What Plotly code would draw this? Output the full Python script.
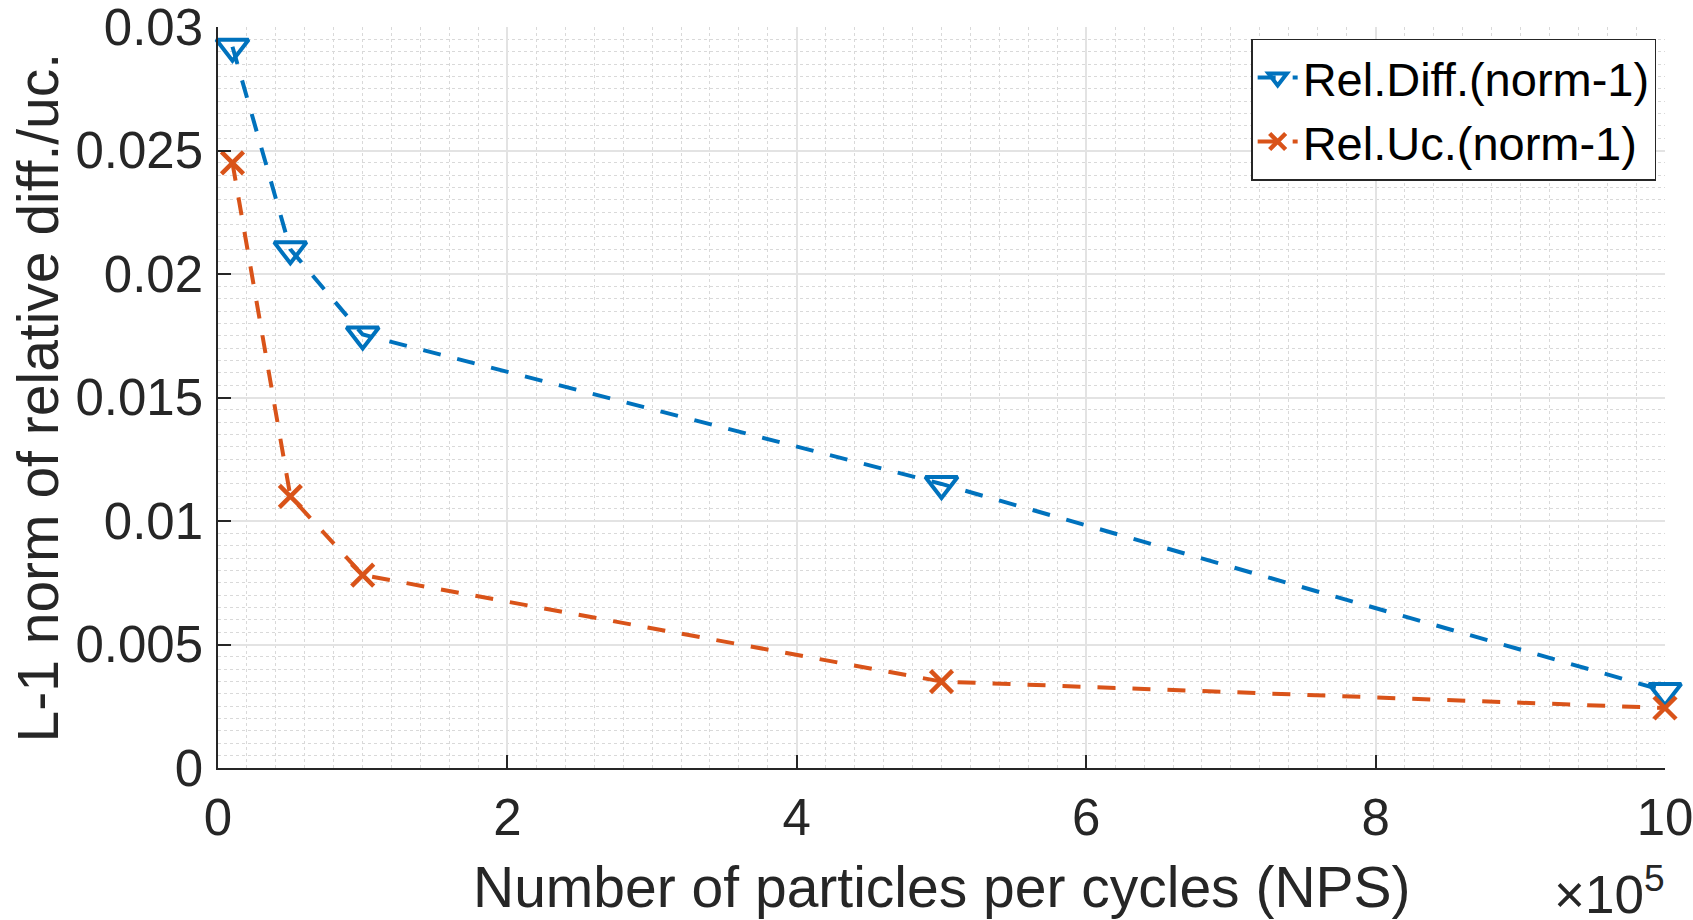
import plotly.graph_objects as go

# Data
nps = [1e4, 5e4, 1e5, 5e5, 1e6]
rel_diff = [0.0292, 0.0210, 0.01755, 0.0115, 0.00312]
rel_uc = [0.0245, 0.01100, 0.00781, 0.00350, 0.00243]
x_scale = 1e5
x_ticks = [0, 2, 4, 6, 8, 10]
y_ticks = [0, 0.005, 0.01, 0.015, 0.02, 0.025, 0.03]
y_tick_labels = ["0", "0.005", "0.01", "0.015", "0.02", "0.025", "0.03"]

BLUE = "#0072BD"
RED = "#D95319"
TXT = "#262626"
FONT = "Liberation Sans, Arial, Helvetica, sans-serif"

xs = [v / x_scale for v in nps]

fig = go.Figure()
fig.add_trace(go.Scatter(
    x=xs, y=rel_diff, mode="lines+markers", name="Rel.Diff.(norm-1)",
    cliponaxis=False,
    line=dict(color=BLUE, width=4, dash="18px,17px"),
    marker=dict(symbol="triangle-down-open", size=28, color=BLUE,
                line=dict(color=BLUE, width=4)),
))
fig.add_trace(go.Scatter(
    x=xs, y=rel_uc, mode="lines+markers", name="Rel.Uc.(norm-1)",
    cliponaxis=False,
    line=dict(color=RED, width=4, dash="18px,17px"),
    marker=dict(symbol="x-thin-open", size=22, color=RED,
                line=dict(color=RED, width=4.5)),
))

axis_common = dict(
    showline=True, linecolor=TXT, linewidth=1.5, mirror=False,
    ticks="inside", ticklen=13, tickwidth=1.5, tickcolor=TXT,
    showgrid=True, gridcolor="#e3e3e3", gridwidth=1.5,
    zeroline=False, ticklabeloverflow="allow", automargin=False,
    tickfont=dict(family=FONT, size=51, color=TXT),
)

fig.update_xaxes(
    range=[0, 10], tickvals=x_ticks, ticktext=[str(v) for v in x_ticks],
    minor=dict(dtick=0.2, showgrid=True, gridcolor="#d9d9d9", griddash="dot", gridwidth=1, ticks=""),
    ticklabelstandoff=4,
    **axis_common,
)
fig.update_yaxes(
    range=[0, 0.03], tickvals=y_ticks, ticktext=y_tick_labels,
    minor=dict(dtick=0.0005, showgrid=True, gridcolor="#d9d9d9", griddash="dot", gridwidth=1, ticks=""),
    ticklabelstandoff=3,
    **axis_common,
)

fig.update_layout(
    width=1693, height=920,
    margin=dict(l=218, r=28, t=27, b=152),
    paper_bgcolor="white", plot_bgcolor="white",
    font=dict(family=FONT, color=TXT),
    showlegend=True,
    legend=dict(
        x=0.714, y=0.984, xanchor="left", yanchor="top",
        bgcolor="white", bordercolor=TXT, borderwidth=1.5,
        font=dict(family=FONT, size=47, color="black"),
        itemwidth=40, tracegroupgap=0,
    ),
    annotations=[
        dict(text="L-1 norm of relative diff./uc.", xref="paper", yref="paper",
             x=0, y=0.5, xanchor="center", yanchor="middle", textangle=-90,
             xshift=-181, showarrow=False,
             font=dict(family=FONT, size=57, color=TXT)),
        dict(text="Number of particles per cycles (NPS)", xref="paper", yref="paper",
             x=0.5, y=0, xanchor="center", yanchor="middle",
             yshift=-119, showarrow=False,
             font=dict(family=FONT, size=57, color=TXT)),
        dict(text="×10<sup>5</sup>",
             xref="paper", yref="paper",
             x=1, y=0, xanchor="right", yanchor="bottom",
             xshift=2, yshift=-158, showarrow=False,
             font=dict(family=FONT, size=53, color=TXT)),
    ],
)

fig.write_html(
    "out.html",
    config={"displayModeBar": False},
    post_script="document.body.style.margin='0';document.body.style.overflow='hidden';",
)
